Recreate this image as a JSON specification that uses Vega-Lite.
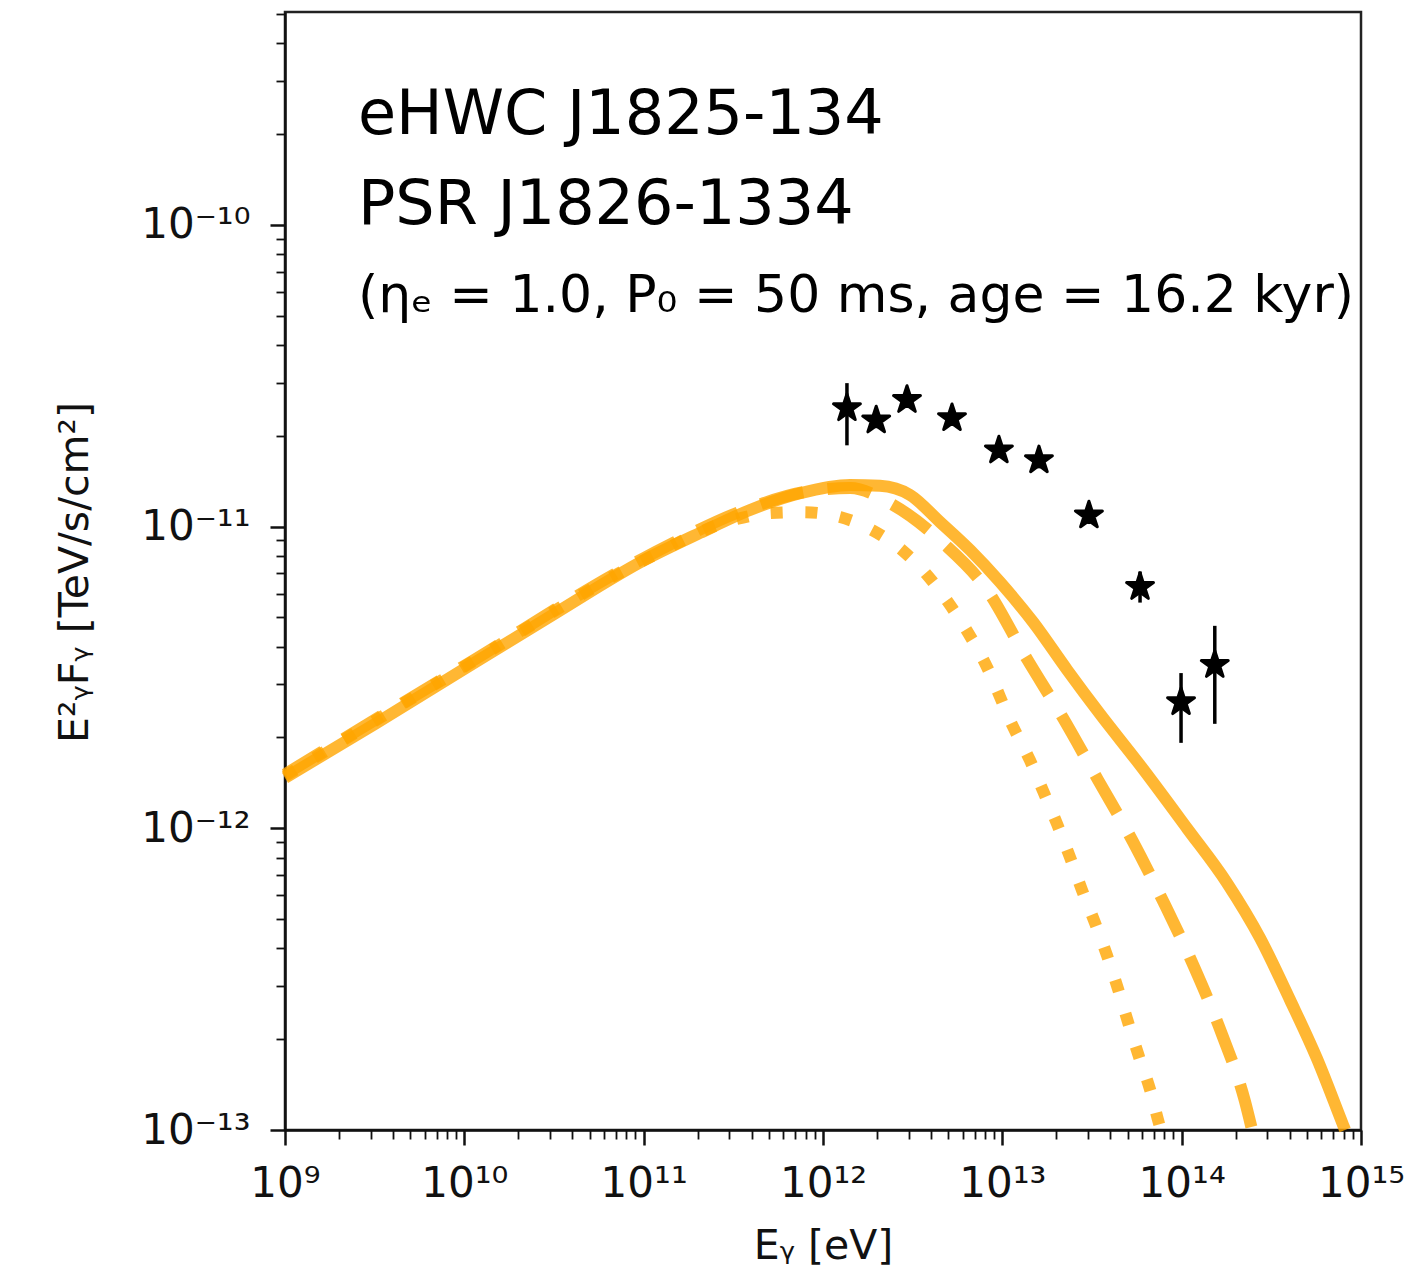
{
  "$schema": "https://vega.github.io/schema/vega-lite/v6.json",
  "width": 1076,
  "height": 1118,
  "autosize": "none",
  "padding": {"left": 285, "top": 12, "right": 64, "bottom": 149},
  "background": "white",
  "config": {
    "view": {"stroke": "#222222", "strokeWidth": 2.5},
    "axis": {
      "grid": false,
      "domainColor": "#111111",
      "domainWidth": 2.5,
      "tickColor": "#111111",
      "labelColor": "#111111",
      "labelFont": "DejaVu Sans",
      "labelFontSize": 42,
      "titleFont": "DejaVu Sans",
      "titleFontSize": 41,
      "titleFontWeight": "normal",
      "titleColor": "#111111"
    }
  },
  "encoding": {
    "x": {
      "field": "E",
      "type": "quantitative",
      "scale": {"type": "log", "domain": [1e9, 1e15], "nice": false, "zero": false},
      "axis": {
        "orient": "bottom",
        "title": "Eᵧ [eV]",
        "titleX": 538,
        "titleY": 116,
        "titleBaseline": "middle",
        "values": [1e9, 2e9, 3e9, 4e9, 5e9, 6e9, 7e9, 8e9, 9e9,
                   1e10, 2e10, 3e10, 4e10, 5e10, 6e10, 7e10, 8e10, 9e10,
                   1e11, 2e11, 3e11, 4e11, 5e11, 6e11, 7e11, 8e11, 9e11,
                   1e12, 2e12, 3e12, 4e12, 5e12, 6e12, 7e12, 8e12, 9e12,
                   1e13, 2e13, 3e13, 4e13, 5e13, 6e13, 7e13, 8e13, 9e13,
                   1e14, 2e14, 3e14, 4e14, 5e14, 6e14, 7e14, 8e14, 9e14, 1e15],
        "labelExpr": "datum.value==1e9?'10⁹':datum.value==1e10?'10¹⁰':datum.value==1e11?'10¹¹':datum.value==1e12?'10¹²':datum.value==1e13?'10¹³':datum.value==1e14?'10¹⁴':datum.value==1e15?'10¹⁵':''",
        "labelPadding": 18,
        "labelFlush": false,
        "labelOverlap": false,
        "tickSize": {"condition": {"test": "indexof([1e9,1e10,1e11,1e12,1e13,1e14,1e15], datum.value) >= 0", "value": 15}, "value": 9},
        "tickWidth": {"condition": {"test": "indexof([1e9,1e10,1e11,1e12,1e13,1e14,1e15], datum.value) >= 0", "value": 2.5}, "value": 1.8}
      }
    },
    "y": {
      "field": "F",
      "type": "quantitative",
      "scale": {"type": "log", "domain": [1e-13, 5.08e-10], "nice": false, "zero": false},
      "axis": {
        "orient": "left",
        "title": "E²ᵧFᵧ [TeV/s/cm²]",
        "titleX": -210,
        "titleY": 560,
        "titleAngle": -90,
        "titleBaseline": "middle",
        "values": [1e-13, 2e-13, 3e-13, 4e-13, 5e-13, 6e-13, 7e-13, 8e-13, 9e-13,
                   1e-12, 2e-12, 3e-12, 4e-12, 5e-12, 6e-12, 7e-12, 8e-12, 9e-12,
                   1e-11, 2e-11, 3e-11, 4e-11, 5e-11, 6e-11, 7e-11, 8e-11, 9e-11,
                   1e-10, 2e-10, 3e-10, 4e-10, 5e-10],
        "labelExpr": "datum.value==1e-13?'10⁻¹³':datum.value==1e-12?'10⁻¹²':datum.value==1e-11?'10⁻¹¹':datum.value==1e-10?'10⁻¹⁰':''",
        "labelPadding": 20,
        "labelFlush": false,
        "labelOverlap": false,
        "tickSize": {"condition": {"test": "indexof([1e-13,1e-12,1e-11,1e-10], datum.value) >= 0", "value": 15}, "value": 9},
        "tickWidth": {"condition": {"test": "indexof([1e-13,1e-12,1e-11,1e-10], datum.value) >= 0", "value": 2.5}, "value": 1.8}
      }
    }
  },
  "layer": [
    {
      "data": {"values": [
        {"E": 1e9, "F": 1.49e-12},
        {"E": 9.95e9, "F": 3.43e-12},
        {"E": 1.005e11, "F": 7.74e-12},
        {"E": 3.15e11, "F": 1.052e-11},
        {"E": 5.07e11, "F": 1.109e-11},
        {"E": 7.74e11, "F": 1.117e-11},
        {"E": 1.245e12, "F": 1.076e-11},
        {"E": 1.875e12, "F": 9.75e-12},
        {"E": 2.76e12, "F": 8.36e-12},
        {"E": 3.80e12, "F": 6.92e-12},
        {"E": 4.98e12, "F": 5.62e-12},
        {"E": 6.35e12, "F": 4.51e-12},
        {"E": 7.95e12, "F": 3.56e-12},
        {"E": 1.148e13, "F": 2.17e-12},
        {"E": 1.426e13, "F": 1.68e-12},
        {"E": 1.687e13, "F": 1.33e-12},
        {"E": 2.02e13, "F": 1.033e-12},
        {"E": 2.38e13, "F": 8.04e-13},
        {"E": 2.78e13, "F": 6.24e-13},
        {"E": 3.29e13, "F": 4.85e-13},
        {"E": 3.84e13, "F": 3.78e-13},
        {"E": 4.42e13, "F": 2.93e-13},
        {"E": 5.02e13, "F": 2.28e-13},
        {"E": 5.78e13, "F": 1.75e-13},
        {"E": 6.67e13, "F": 1.36e-13},
        {"E": 7.48e13, "F": 1.05e-13},
        {"E": 7.67e13, "F": 1.0e-13}
      ]},
      "mark": {"type": "line", "color": "#FFA500", "strokeOpacity": 0.8, "strokeWidth": 12, "strokeDash": [12, 22.7], "interpolate": "monotone"}
    },
    {
      "data": {"values": [
        {"E": 1e9, "F": 1.51e-12},
        {"E": 9.95e9, "F": 3.45e-12},
        {"E": 1.005e11, "F": 7.87e-12},
        {"E": 3.92e11, "F": 1.153e-11},
        {"E": 7.74e11, "F": 1.30e-11},
        {"E": 1.42e12, "F": 1.343e-11},
        {"E": 2.36e12, "F": 1.197e-11},
        {"E": 4.67e12, "F": 8.83e-12},
        {"E": 8.22e12, "F": 6.17e-12},
        {"E": 1.373e13, "F": 3.64e-12},
        {"E": 2.18e13, "F": 2.32e-12},
        {"E": 3.42e13, "F": 1.445e-12},
        {"E": 5.36e13, "F": 9.02e-13},
        {"E": 8.07e13, "F": 5.57e-13},
        {"E": 1.186e14, "F": 3.42e-13},
        {"E": 1.68e14, "F": 2.07e-13},
        {"E": 2.25e14, "F": 1.25e-13},
        {"E": 2.47e14, "F": 1.0e-13}
      ]},
      "mark": {"type": "line", "color": "#FFA500", "strokeOpacity": 0.8, "strokeWidth": 12, "strokeDash": [44, 24.5], "interpolate": "monotone"}
    },
    {
      "data": {"values": [
        {"E": 1e9, "F": 1.47e-12},
        {"E": 3.18e9, "F": 2.22e-12},
        {"E": 9.95e9, "F": 3.37e-12},
        {"E": 3.16e10, "F": 5.13e-12},
        {"E": 1.005e11, "F": 7.74e-12},
        {"E": 2.06e11, "F": 9.53e-12},
        {"E": 3.92e11, "F": 1.135e-11},
        {"E": 7.45e11, "F": 1.29e-11},
        {"E": 1.416e12, "F": 1.374e-11},
        {"E": 2.08e12, "F": 1.365e-11},
        {"E": 3.05e12, "F": 1.274e-11},
        {"E": 4.49e12, "F": 1.036e-11},
        {"E": 6.61e12, "F": 8.36e-12},
        {"E": 9.70e12, "F": 6.55e-12},
        {"E": 1.483e13, "F": 4.83e-12},
        {"E": 2.30e13, "F": 3.35e-12},
        {"E": 3.51e13, "F": 2.39e-12},
        {"E": 5.86e13, "F": 1.62e-12},
        {"E": 1.072e14, "F": 1.00e-12},
        {"E": 1.79e14, "F": 6.59e-13},
        {"E": 2.74e14, "F": 4.32e-13},
        {"E": 4.02e14, "F": 2.70e-13},
        {"E": 5.69e14, "F": 1.72e-13},
        {"E": 7.94e14, "F": 1.04e-13},
        {"E": 8.15e14, "F": 1.0e-13}
      ]},
      "mark": {"type": "line", "color": "#FFA500", "strokeOpacity": 0.8, "strokeWidth": 12, "interpolate": "monotone"}
    },
    {
      "data": {"values": [
        {"E": 1.36e12, "F": 2.47e-11, "lo": 1.86e-11, "hi": 2.99e-11},
        {"E": 1.98e12, "F": 2.25e-11, "lo": 2.12e-11, "hi": 2.38e-11},
        {"E": 2.94e12, "F": 2.63e-11, "lo": 2.50e-11, "hi": 2.77e-11},
        {"E": 5.24e12, "F": 2.29e-11, "lo": 2.17e-11, "hi": 2.41e-11},
        {"E": 9.57e12, "F": 1.79e-11, "lo": 1.69e-11, "hi": 1.89e-11},
        {"E": 1.60e13, "F": 1.66e-11, "lo": 1.56e-11, "hi": 1.76e-11},
        {"E": 3.04e13, "F": 1.09e-11, "lo": 1.02e-11, "hi": 1.16e-11},
        {"E": 5.86e13, "F": 6.31e-12, "lo": 5.6e-12, "hi": 7.1e-12},
        {"E": 9.92e13, "F": 2.62e-12, "lo": 1.92e-12, "hi": 3.27e-12},
        {"E": 1.53e14, "F": 3.48e-12, "lo": 2.22e-12, "hi": 4.69e-12}
      ]},
      "layer": [
        {
          "mark": {"type": "rule", "color": "black", "strokeWidth": 3.5},
          "encoding": {
            "y": {"field": "lo", "type": "quantitative"},
            "y2": {"field": "hi"}
          }
        },
        {
          "mark": {"type": "point", "shape": "M0,-1L0.2245,-0.309L0.951,-0.309L0.363,0.118L0.588,0.809L0,0.382L-0.588,0.809L-0.363,0.118L-0.951,-0.309L-0.2245,-0.309Z", "filled": true, "fill": "black", "stroke": "black", "strokeWidth": 3, "strokeJoin": "round", "opacity": 1, "size": 800}
        }
      ]
    },
    {
      "data": {"values": [
        {"E": 2.55e9, "F": 2.0e-10, "label": "eHWC J1825-134"},
        {"E": 2.55e9, "F": 1.006e-10, "label": "PSR J1826-1334"}
      ]},
      "mark": {"type": "text", "align": "left", "baseline": "alphabetic", "fontSize": 62, "font": "DejaVu Sans", "color": "black"},
      "encoding": {"text": {"field": "label", "type": "nominal"}}
    },
    {
      "data": {"values": [
        {"E": 2.55e9, "F": 5.14e-11, "label": "(ηₑ = 1.0, P₀ = 50 ms, age = 16.2 kyr)"}
      ]},
      "mark": {"type": "text", "align": "left", "baseline": "alphabetic", "fontSize": 52, "font": "DejaVu Sans", "color": "black"},
      "encoding": {"text": {"field": "label", "type": "nominal"}}
    }
  ]
}
